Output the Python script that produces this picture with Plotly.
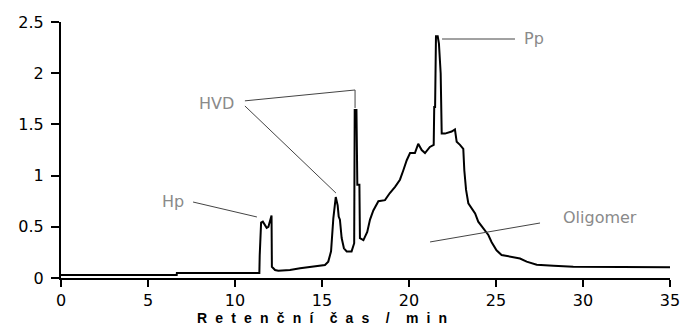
import plotly.graph_objects as go

# Chromatogram (retention time in min, detector response)
time_min = [0, 6.65, 6.66, 11.4, 11.42, 11.5, 11.6, 11.82, 11.92, 12.05, 12.1, 12.12,
            12.3, 12.49, 13.16, 13.74, 14.5, 15.17, 15.36, 15.52, 15.65, 15.79, 15.9,
            15.96, 16.03, 16.13, 16.26, 16.42, 16.7, 16.8, 16.85, 16.88, 16.98, 17.03,
            17.15, 17.18, 17.38, 17.6, 17.76, 17.95, 18.24, 18.62, 18.9, 19.2, 19.48,
            19.67, 19.87, 20.06, 20.34, 20.53, 20.73, 20.92, 21.2, 21.42, 21.45, 21.5,
            21.55, 21.65, 21.72, 21.82, 21.88, 22.07, 22.45, 22.64, 22.74, 22.93, 23.12,
            23.18, 23.28, 23.41, 23.6, 23.8, 23.98, 24.27, 24.56, 24.75, 25.03, 25.32,
            25.8, 26.38, 26.76, 27.34, 28.3, 29.44, 35]
signal = [0.03, 0.03, 0.05, 0.05, 0.22, 0.54, 0.55, 0.49, 0.50, 0.60, 0.61, 0.11,
          0.078, 0.072, 0.078, 0.095, 0.11, 0.127, 0.16, 0.26, 0.58, 0.79, 0.71,
          0.60, 0.57, 0.39, 0.29, 0.26, 0.26, 0.32, 0.34, 1.64, 1.64, 0.91,
          0.91, 0.39, 0.37, 0.45, 0.57, 0.66, 0.75, 0.76, 0.83, 0.89, 0.96,
          1.05, 1.15, 1.22, 1.22, 1.31, 1.25, 1.22, 1.28, 1.30, 1.67, 1.67,
          2.36, 2.36, 2.29, 2.00, 1.41, 1.41, 1.43, 1.45, 1.33, 1.30, 1.26,
          1.05, 0.86, 0.73, 0.68, 0.63, 0.55, 0.49, 0.42, 0.35, 0.27, 0.225,
          0.21, 0.19, 0.16, 0.13, 0.12, 0.11, 0.105]

x_ticks = [0, 5, 10, 15, 20, 25, 30, 35]
y_ticks = [0, 0.5, 1, 1.5, 2, 2.5]
y_tick_labels = ["0", "0.5", "1", "1.5", "2", "2.5"]

# Peak labels: (text, x, y) and leader lines (x0, y0, x1, y1)
labels = [("Hp", 6.44, 0.75), ("HVD", 8.91, 1.70), ("Pp", 27.18, 2.34), ("Oligomer", 30.98, 0.586)]
leaders = [
    (7.59, 0.742, 11.26, 0.596),
    (10.57, 1.73, 16.9, 1.836),
    (16.9, 1.836, 16.9, 1.66),
    (10.57, 1.68, 15.8, 0.83),
    (21.9, 2.334, 26.09, 2.334),
    (21.21, 0.352, 27.53, 0.537),
]
x_title = "Retenční čas / min"

fig = go.Figure()
fig.add_trace(go.Scatter(x=time_min, y=signal, mode="lines",
                         line=dict(color="black", width=2), showlegend=False))

for x0, y0, x1, y1 in leaders:
    fig.add_shape(type="line", x0=x0, y0=y0, x1=x1, y1=y1, xref="x", yref="y",
                  line=dict(color="#444444", width=1))

for text, x, y in labels:
    fig.add_annotation(x=x, y=y, text=text, showarrow=False, xanchor="center", yanchor="middle",
                       font=dict(family="DejaVu Sans", size=16, color="#8a8a8a"))

gap = "\u2002\u200a"
spaced = (gap * 2).join(gap.join(w) for w in x_title.split(" "))
fig.add_annotation(x=0.428, y=-0.155, xref="paper", yref="paper", text=spaced, showarrow=False,
                   xanchor="center", yanchor="middle", borderpad=0,
                   font=dict(family="Liberation Sans", size=14, color="black", weight="bold"))

fig.update_layout(
    width=686, height=327,
    margin=dict(l=61, r=16, t=22, b=49),
    paper_bgcolor="white", plot_bgcolor="white",
    font=dict(family="DejaVu Sans", size=16, color="black"),
)
fig.update_xaxes(range=[0, 35], tickvals=x_ticks, ticks="outside", ticklen=7, tickwidth=2,
                 tickcolor="black", showline=True, linecolor="black", linewidth=2,
                 showgrid=False, zeroline=False, tickfont=dict(size=16), automargin=False)
fig.update_yaxes(range=[0, 2.5], tickvals=y_ticks, ticktext=y_tick_labels, ticks="outside",
                 ticklen=8, tickwidth=2, tickcolor="black", showline=True, linecolor="black",
                 linewidth=2, showgrid=False, zeroline=False, tickfont=dict(size=16),
                 automargin=False, ticklabelstandoff=4)

fig.write_html("out.html", config={"displayModeBar": False},
               post_script="document.body.style.margin='0';document.body.style.overflow='hidden';")
